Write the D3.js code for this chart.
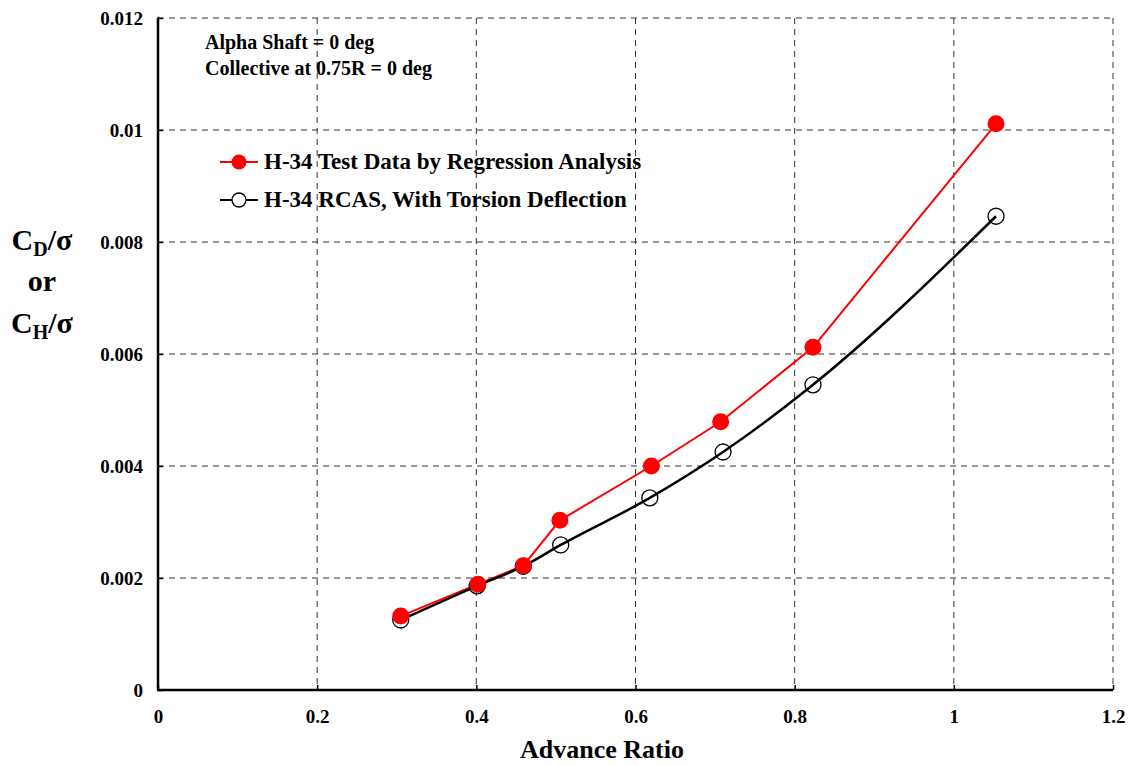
<!DOCTYPE html>
<html><head><meta charset="utf-8">
<script src="https://cdn.jsdelivr.net/npm/d3@7"></script>
<style>body{margin:0;background:#fff}text{font-family:"Liberation Serif","Times New Roman",serif;font-weight:bold}</style>
</head><body><svg id="c" width="1132" height="765"></svg>
<script>
const testMu = [0.305, 0.402, 0.459, 0.505, 0.620, 0.707, 0.823, 1.053];
const testVal = [0.00132, 0.00189, 0.00222, 0.00303, 0.00400, 0.00479, 0.00612, 0.01011];
const rcasMu = [0.305, 0.401, 0.459, 0.506, 0.618, 0.710, 0.823, 1.053];
const rcasVal = [0.00125, 0.00186, 0.00221, 0.00259, 0.00343, 0.00425, 0.00545, 0.00846];
const xTicks = [0, 0.2, 0.4, 0.6, 0.8, 1, 1.2];
const yTicks = [0, 0.002, 0.004, 0.006, 0.008, 0.01, 0.012];
const seriesNames = ["H-34 Test Data by Regression Analysis", "H-34 RCAS, With Torsion Deflection"];
const notes = ["Alpha Shaft = 0 deg", "Collective at 0.75R = 0 deg"];

const svg = d3.select("#c");
const L=158, R=1113, T=18, B=690;
const x = d3.scaleLinear().domain([0,1.2]).range([L,R]);
const y = d3.scaleLinear().domain([0,0.012]).range([B,T]);
const fmt = d => String(+d.toFixed(3));

// grid
svg.append("g").selectAll("line").data(xTicks.slice(1)).join("line")
  .attr("x1",d=>x(d)).attr("x2",d=>x(d)).attr("y1",T).attr("y2",B)
  .attr("stroke","#333").attr("stroke-width",1).attr("stroke-dasharray","6,5");
svg.append("g").selectAll("line").data(yTicks.slice(1)).join("line")
  .attr("y1",d=>y(d)).attr("y2",d=>y(d)).attr("x1",L).attr("x2",R)
  .attr("stroke","#333").attr("stroke-width",1).attr("stroke-dasharray","6,5");

// axes
const xa = svg.append("g").attr("transform",`translate(0,${B})`)
  .call(d3.axisBottom(x).tickValues(xTicks).tickFormat(fmt).tickSize(-5).tickPadding(20));
const ya = svg.append("g").attr("transform",`translate(${L},0)`)
  .call(d3.axisLeft(y).tickValues(yTicks).tickFormat(fmt).tickSize(-5).tickPadding(15));
[xa,ya].forEach(a=>{
  a.attr("font-size",19).attr("font-family","Liberation Serif");
  a.select(".domain").attr("stroke","#000").attr("stroke-width",2.5);
  a.selectAll(".tick line").attr("stroke","#000").attr("stroke-width",1.5);
  a.selectAll(".tick text").attr("font-size",19).attr("font-weight","bold").attr("fill","#000");
});
ya.select(".domain").attr("d",`M-0.5,${T}H0V${B}`);
xa.select(".domain").attr("d",`M${L-1},0H${R}`);

// lines
const line = d3.line().x(d=>x(d[0])).y(d=>y(d[1]));
const testData = testMu.map((m,i)=>[m,testVal[i]]);
const rcasData = rcasMu.map((m,i)=>[m,rcasVal[i]]);
svg.append("path").datum(testData).attr("d",line).attr("fill","none").attr("stroke","#ff0000").attr("stroke-width",2);
svg.append("path").datum(rcasData).attr("d",line.curve(d3.curveMonotoneX)).attr("fill","none").attr("stroke","#000").attr("stroke-width",2.5);
svg.append("g").selectAll("circle").data(rcasData).join("circle")
  .attr("cx",d=>x(d[0])).attr("cy",d=>y(d[1])).attr("r",8).attr("fill","none").attr("stroke","#000").attr("stroke-width",1.3);
svg.append("g").selectAll("circle").data(testData).join("circle")
  .attr("cx",d=>x(d[0])).attr("cy",d=>y(d[1])).attr("r",8.5).attr("fill","#ff0000");

// notes
svg.selectAll(".note").data(notes).join("text").attr("class","note")
  .attr("x",205).attr("y",(d,i)=>49+i*26).attr("font-size",20).text(d=>d);

// legend
const lg = svg.append("g");
[[162,"#ff0000",true],[200,"#000",false]].forEach((s,i)=>{
  lg.append("line").attr("x1",220).attr("x2",258).attr("y1",s[0]).attr("y2",s[0]).attr("stroke",s[1]).attr("stroke-width",2.2);
  if(s[2]) lg.append("circle").attr("cx",239).attr("cy",s[0]).attr("r",7.5).attr("fill","#ff0000");
  else lg.append("circle").attr("cx",239).attr("cy",s[0]).attr("r",7).attr("fill","#fff").attr("stroke","#000").attr("stroke-width",1.3);
  lg.append("text").attr("x",264).attr("y",s[0]+7).attr("font-size",23).text(seriesNames[i]);
});

// axis titles
svg.append("text").attr("x",602).attr("y",758).attr("text-anchor","middle").attr("font-size",26).text("Advance Ratio");
const yt = svg.append("g").attr("font-size",30);
const t1 = yt.append("text").attr("x",42).attr("y",250).attr("text-anchor","middle");
t1.append("tspan").text("C");
t1.append("tspan").attr("font-size",20).attr("dy",6).text("D");
t1.append("tspan").attr("dy",-6).text("/σ");
yt.append("text").attr("x",42).attr("y",291).attr("text-anchor","middle").text("or");
const t2 = yt.append("text").attr("x",42).attr("y",333).attr("text-anchor","middle");
t2.append("tspan").text("C");
t2.append("tspan").attr("font-size",20).attr("dy",6).text("H");
t2.append("tspan").attr("dy",-6).text("/σ");
</script></body></html>
